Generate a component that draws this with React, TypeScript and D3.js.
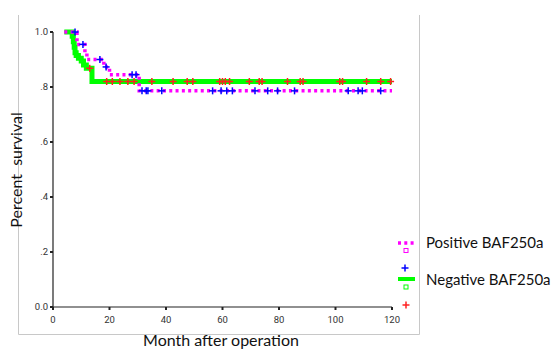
import * as d3 from 'd3';

// Kaplan-Meier steps (months, survival)
const posTimes = [4, 8.5, 11.3, 12, 18, 20, 30.5];
const posSurv = [1.0, 0.955, 0.925, 0.9, 0.873, 0.845, 0.786];
const posCensor = [7.8, 10.6, 16.6, 18.8, 28, 29.4, 31.5, 33, 33.6, 38.5, 56.5, 59.5, 61.5, 63.5, 71.5, 76, 79.5, 85.5, 104.5, 108, 109.5, 116];

const negTimes = [4, 6.8, 7.2, 7.5, 7.8, 8.2, 9.0, 10.0, 10.8, 11.8, 13.8];
const negSurv = [1.0, 0.985, 0.965, 0.945, 0.925, 0.915, 0.905, 0.895, 0.88, 0.868, 0.82];
const negCensor = [13, 19, 21, 23.7, 26.5, 28.7, 35, 42.5, 47.5, 49.5, 59, 60, 61, 62.5, 69.5, 73, 74, 83, 87.5, 88.5, 101.5, 102.5, 111, 116, 119.5];

const endTime = 120;
const xTicks = [0, 20, 40, 60, 80, 100, 120];
const yTicks = [0, 0.2, 0.4, 0.6, 0.8, 1.0];
const yTickLabels = ['0.0', '.2', '.4', '.6', '.8', '1.0'];
const seriesNames = ['Positive BAF250a', 'Negative BAF250a'];

const x = d3.scaleLinear().domain([0, 120]).range([53, 392]);
const y = d3.scaleLinear().domain([0, 1]).range([307, 32]);

const stepLine = d3.line<[number, number]>()
  .x(d => x(d[0]))
  .y(d => y(d[1]))
  .curve(d3.curveStepAfter);

function points(times: number[], surv: number[]): [number, number][] {
  const pts: [number, number][] = times.map((t, i) => [t, surv[i]]);
  pts.push([endTime, surv[surv.length - 1]]);
  return pts;
}

function survAt(times: number[], surv: number[], t: number) {
  let s = surv[0];
  times.forEach((ti, i) => { if (ti <= t) s = surv[i]; });
  return s;
}

function Plus({ cx, cy, color }: { cx: number; cy: number; color: string }) {
  return (
    <g stroke={color} strokeWidth={1.5}>
      <line x1={cx - 3.5} x2={cx + 3.5} y1={cy} y2={cy} />
      <line x1={cx} x2={cx} y1={cy - 3.5} y2={cy + 3.5} />
    </g>
  );
}

const MAGENTA = '#ff00ff';
const GREEN = '#00ff00';
const tickFont = 'Roboto, "DejaVu Sans", sans-serif';
const titleFont = 'Lato, "Open Sans", sans-serif';

export default function App() {
  return (
    <div style={{ position: 'absolute', left: 0, top: 0 }}>
      <svg width={557} height={352} style={{ display: 'block', background: '#fff' }}>
        {/* frame */}
        <g stroke="#c8c8c8" strokeWidth={1} fill="none">
          <line x1={18.5} x2={18.5} y1={15} y2={334.5} />
          <line x1={419.5} x2={419.5} y1={15} y2={334.5} />
          <line x1={18.5} x2={419.5} y1={334.5} y2={334.5} />
        </g>

        {/* axes */}
        <g stroke="#222" strokeWidth={1.2}>
          <line x1={x(0)} x2={x(0)} y1={y(1)} y2={y(0)} />
          <line x1={x(0)} x2={x(120)} y1={y(0)} y2={y(0)} />
          {yTicks.map(t => (
            <line key={t} x1={x(0) - 3} x2={x(0)} y1={y(t)} y2={y(t)} strokeWidth={2} />
          ))}
          {xTicks.map(t => (
            <line key={t} x1={x(t)} x2={x(t)} y1={y(0)} y2={y(0) + 3} strokeWidth={2} />
          ))}
        </g>
        <g fontFamily={tickFont} fontSize={9.5} fill="#333">
          {yTicks.map((t, i) => (
            <text key={t} x={x(0) - 5} y={y(t)} dy="0.35em" textAnchor="end">{yTickLabels[i]}</text>
          ))}
          {xTicks.map(t => (
            <text key={t} x={x(t)} y={y(0) + 16} textAnchor="middle">{t}</text>
          ))}
        </g>

        {/* curves */}
        <path d={stepLine(points(negTimes, negSurv)) || ''} fill="none" stroke={GREEN} strokeWidth={5} />
        <path d={stepLine(points(posTimes, posSurv)) || ''} fill="none" stroke={MAGENTA} strokeWidth={3.5} strokeDasharray="3,3.3" />
        {negCensor.map((t, i) => (
          <Plus key={'n' + i} cx={x(t)} cy={y(survAt(negTimes, negSurv, t))} color="#ff2020" />
        ))}
        {posCensor.map((t, i) => (
          <Plus key={'p' + i} cx={x(t)} cy={y(survAt(posTimes, posSurv, t))} color="#0000ff" />
        ))}

        {/* axis titles */}
        <text x={221} y={346} textAnchor="middle" fontFamily={titleFont} fontSize={16} fill="#111">Month after operation</text>
        <text transform="translate(22,170) rotate(-90)" textAnchor="middle" fontFamily={titleFont} fontSize={16} fill="#111" style={{ whiteSpace: 'pre' }}>Percent  survival</text>

        {/* legend */}
        <line x1={398} x2={415} y1={243} y2={243} stroke={MAGENTA} strokeWidth={3.5} strokeDasharray="3,3.3" />
        <rect x={404} y={248.5} width={4} height={4} fill="none" stroke={MAGENTA} strokeWidth={1} />
        <text x={426} y={248} fontFamily={titleFont} fontSize={15} fill="#111">{seriesNames[0]}</text>
        <Plus cx={405} cy={268} color="#0000ff" />
        <line x1={398} x2={415} y1={279} y2={279} stroke={GREEN} strokeWidth={4} />
        <rect x={404} y={285} width={4} height={4} fill="none" stroke={GREEN} strokeWidth={1} />
        <text x={426} y={285} fontFamily={titleFont} fontSize={15} fill="#111">{seriesNames[1]}</text>
        <Plus cx={406} cy={305} color="#ff2020" />
      </svg>
    </div>
  );
}
